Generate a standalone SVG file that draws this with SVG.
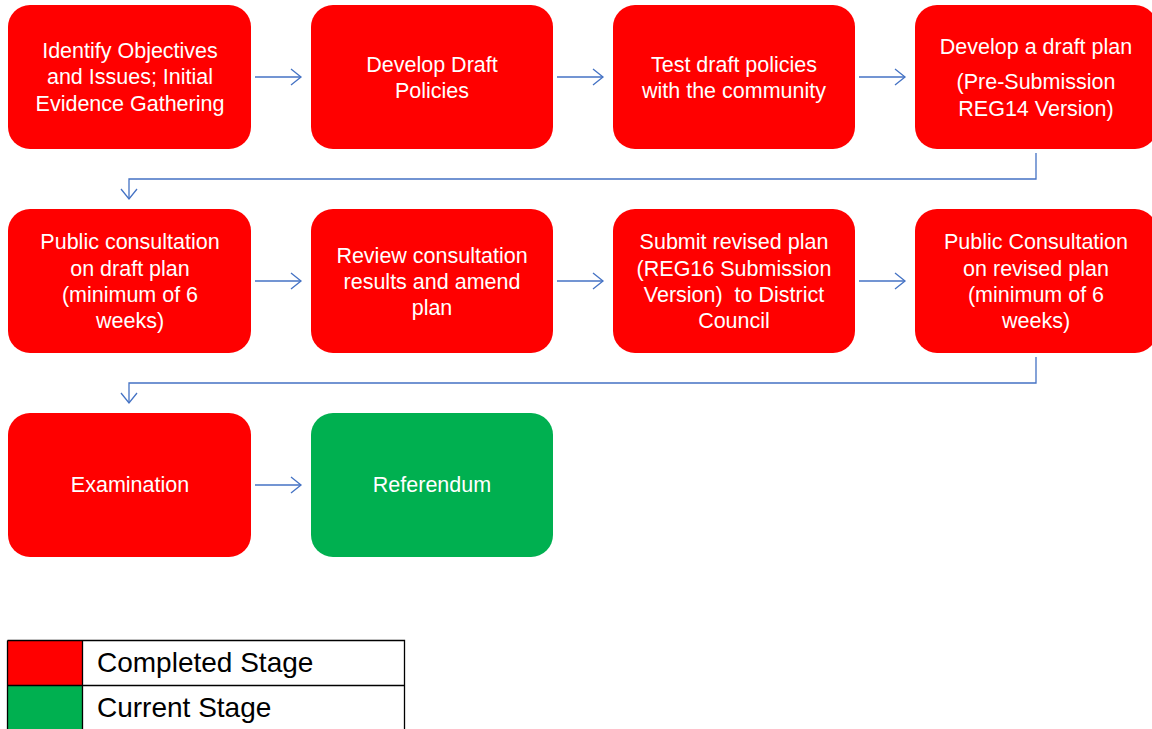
<svg xmlns="http://www.w3.org/2000/svg" width="1152" height="729" viewBox="0 0 1152 729">
<defs>
<marker id="arr" markerUnits="userSpaceOnUse" markerWidth="14" markerHeight="20" refX="11" refY="9" orient="auto" viewBox="0 0 14 20">
<path d="M1,1 L11,9 L1,17" fill="none" stroke="#4472C4" stroke-width="1.3"/>
</marker>
</defs>
<style>
.red{fill:#FF0000}
.green{fill:#00B050}
.t{font-family:"Liberation Sans",Arial,sans-serif;font-size:21.5px;fill:#FFFFFF;text-anchor:middle}
.c{fill:none;stroke:#4472C4;stroke-width:1.3}
.lg{font-family:"Liberation Sans",Arial,sans-serif;font-size:28px;fill:#000000}
</style>
<rect width="1152" height="729" fill="#FFFFFF"/>
<g id="connectors">
<path class="c" d="M255,77 H301" marker-end="url(#arr)"/>
<path class="c" d="M557,77 H603" marker-end="url(#arr)"/>
<path class="c" d="M859,77 H905" marker-end="url(#arr)"/>
<path class="c" d="M1036,153 V179 H129 V199" marker-end="url(#arr)"/>
<path class="c" d="M255,281 H301" marker-end="url(#arr)"/>
<path class="c" d="M557,281 H603" marker-end="url(#arr)"/>
<path class="c" d="M859,281 H905" marker-end="url(#arr)"/>
<path class="c" d="M1036,357 V383 H129 V403" marker-end="url(#arr)"/>
<path class="c" d="M255,485 H301" marker-end="url(#arr)"/>
</g>
<g id="n1"><rect class="red" x="8" y="5" width="243" height="144" rx="22"/>
<text class="t"><tspan x="130" y="58">Identify Objectives</tspan><tspan x="130" y="84">and Issues; Initial</tspan><tspan x="130" y="111">Evidence Gathering</tspan></text></g>
<g id="n2"><rect class="red" x="311" y="5" width="242" height="144" rx="22"/>
<text class="t"><tspan x="432" y="72">Develop Draft</tspan><tspan x="432" y="98">Policies</tspan></text></g>
<g id="n3"><rect class="red" x="613" y="5" width="242" height="144" rx="22"/>
<text class="t"><tspan x="734" y="72">Test draft policies</tspan><tspan x="734" y="98">with the community</tspan></text></g>
<g id="n4"><rect class="red" x="915" y="5" width="242" height="144" rx="22"/>
<text class="t"><tspan x="1036" y="54">Develop a draft plan</tspan><tspan x="1036" y="89">(Pre-Submission</tspan><tspan x="1036" y="116">REG14 Version)</tspan></text></g>
<g id="n5"><rect class="red" x="8" y="209" width="243" height="144" rx="22"/>
<text class="t"><tspan x="130" y="249">Public consultation</tspan><tspan x="130" y="276">on draft plan</tspan><tspan x="130" y="302">(minimum of 6</tspan><tspan x="130" y="328">weeks)</tspan></text></g>
<g id="n6"><rect class="red" x="311" y="209" width="242" height="144" rx="22"/>
<text class="t"><tspan x="432" y="263">Review consultation</tspan><tspan x="432" y="289">results and amend</tspan><tspan x="432" y="315">plan</tspan></text></g>
<g id="n7"><rect class="red" x="613" y="209" width="242" height="144" rx="22"/>
<text class="t" xml:space="preserve"><tspan x="734" y="249">Submit revised plan</tspan><tspan x="734" y="276">(REG16 Submission</tspan><tspan x="734" y="302">Version)  to District</tspan><tspan x="734" y="328">Council</tspan></text></g>
<g id="n8"><rect class="red" x="915" y="209" width="242" height="144" rx="22"/>
<text class="t"><tspan x="1036" y="249">Public Consultation</tspan><tspan x="1036" y="276">on revised plan</tspan><tspan x="1036" y="302">(minimum of 6</tspan><tspan x="1036" y="328">weeks)</tspan></text></g>
<g id="n9"><rect class="red" x="8" y="413" width="243" height="144" rx="22"/>
<text class="t"><tspan x="130" y="492">Examination</tspan></text></g>
<g id="n10"><rect class="green" x="311" y="413" width="242" height="144" rx="22"/>
<text class="t"><tspan x="432" y="492">Referendum</tspan></text></g>
<g id="legend">
<rect class="red" x="7.5" y="640.5" width="75" height="45"/>
<rect class="green" x="7.5" y="685.5" width="75" height="45"/>
<path d="M7.5,640.5 H404.5 V735 M7.5,640.5 V735 M82.5,640.5 V735 M7.5,685.5 H404.5" fill="none" stroke="#000000" stroke-width="1.3"/>
<text class="lg" x="97" y="672">Completed Stage</text>
<text class="lg" x="97" y="717">Current Stage</text>
</g>
</svg>
